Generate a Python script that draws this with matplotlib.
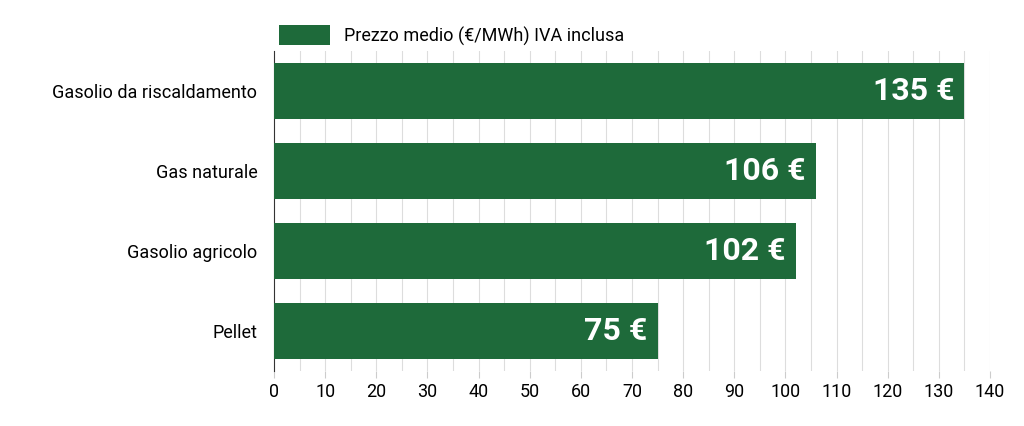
import matplotlib
matplotlib.use("Agg")
import matplotlib.pyplot as plt
import numpy as np

categories = ["Gasolio da riscaldamento", "Gas naturale", "Gasolio agricolo", "Pellet"]
prices = [135, 106, 102, 75]
value_labels = ["135 €", "106 €", "102 €", "75 €"]
series_name = "Prezzo medio (€/MWh) IVA inclusa"

plt.rcParams["font.family"] = "Roboto"
green = "#1e6a3a"

fig = plt.figure(figsize=(10.24, 4.26), dpi=100)
ax = fig.add_axes([274 / 1024, 1 - 371 / 426, 716 / 1024, 320 / 426])

y = np.arange(len(categories))
ax.barh(y, prices, height=0.7, color=green, label=series_name, zorder=3)
for yi, v, lab in zip(y, prices, value_labels):
    ax.text(v - 2, yi, lab, color="white", fontsize=23, fontweight="bold",
            ha="right", va="center", zorder=4)

ax.set_ylim(3.5, -0.5)
ax.set_xlim(0, 140)
ax.set_yticks(y)
ax.set_yticklabels(categories, fontsize=13)
ax.set_xticks(np.arange(0, 141, 10))
ax.tick_params(axis="x", labelsize=13, length=5, color="#cccccc")
ax.tick_params(axis="y", length=0, pad=12)
for xv in np.arange(5, 141, 5):
    ax.axvline(xv, color="#dddddd", lw=0.8, zorder=1)
for s in ["top", "right", "bottom"]:
    ax.spines[s].set_visible(False)
ax.spines["left"].set_color("#333333")

ax.legend(loc="lower left", bbox_to_anchor=(0, 1.0), frameon=False, fontsize=13,
          handlelength=2.8, handleheight=1.3, borderaxespad=0.2, borderpad=0.1)

fig.savefig("out.png", dpi=100)
